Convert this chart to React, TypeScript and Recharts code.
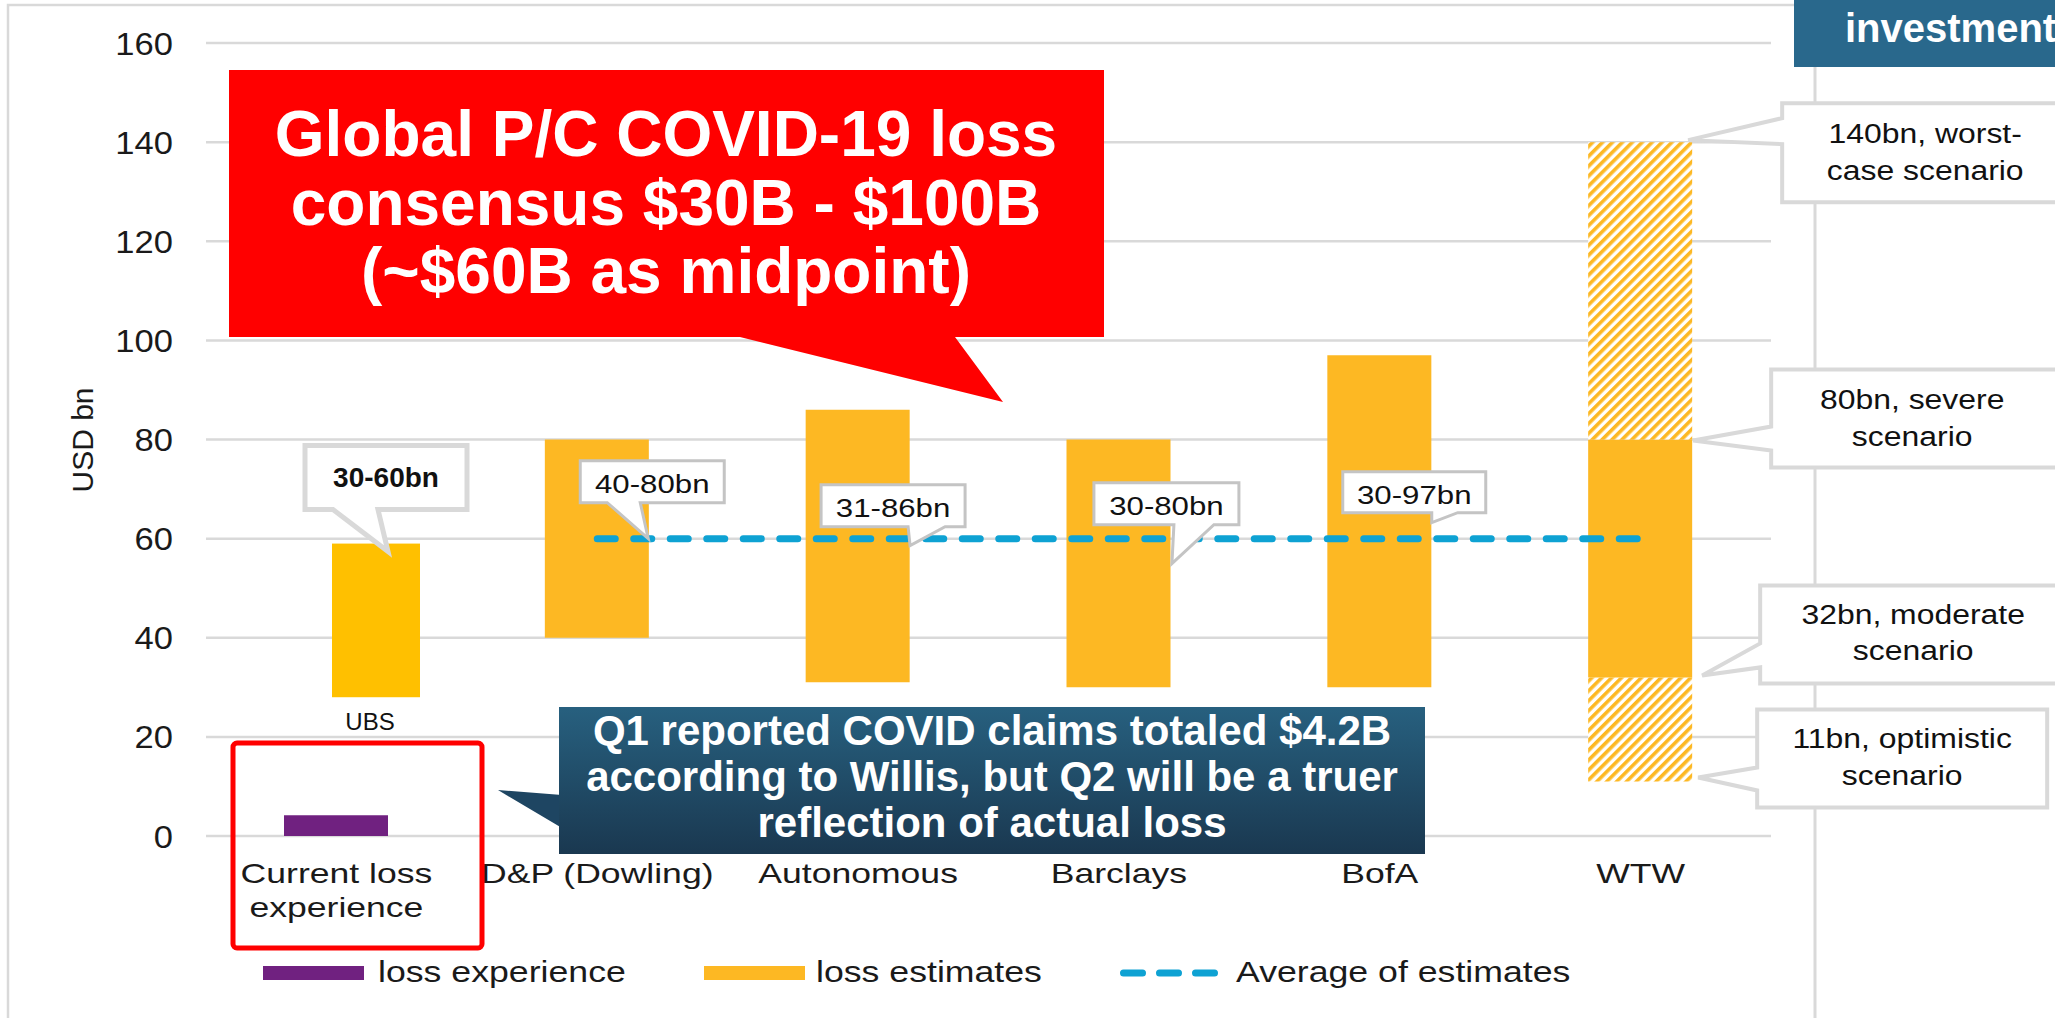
import React from "react";
import {
  ComposedChart,
  Bar,
  Line,
  XAxis,
  YAxis,
  CartesianGrid,
  LabelList,
} from "recharts";

// ---- data ----
const categories = [
  "Current loss experience",
  "D&P (Dowling)",
  "Autonomous",
  "Barclays",
  "BofA",
  "WTW",
];
const lossExperience = [4.2, null, null, null, null, null];
const estimateLow = [null, 40, 31, 30, 30, 32];
const estimateHigh = [null, 80, 86, 80, 97, 80];
const averageOfEstimates = [null, 60, 60, 60, 60, 60];
const ubsRange = [28, 59]; // UBS estimate, drawn inside the first category
const wtwScenarios = [11, 32, 80, 140]; // optimistic, moderate, severe, worst-case
const rangeLabels = ["4.2bn", "40-80bn", "31-86bn", "30-80bn", "30-97bn", ""];
const ubsLabel = "30-60bn";
const ubsName = "UBS";
const scenarioLabels = [
  ["11bn, optimistic", "scenario"],
  ["32bn, moderate", "scenario"],
  ["80bn, severe", "scenario"],
  ["140bn, worst-", "case scenario"],
];
const yTicks = [0, 20, 40, 60, 80, 100, 120, 140, 160];
const legendItems = ["loss experience", "loss estimates", "Average of estimates"];
const headline = ["Global P/C COVID-19 loss", "consensus $30B - $100B", "(~$60B as midpoint)"];
const q1Note = [
  "Q1 reported COVID claims totaled $4.2B",
  "according to Willis, but Q2 will be a truer",
  "reflection of actual loss",
];

const WTW = categories.length - 1;
const data = categories.map((name, i) => {
  const wtw = i === WTW;
  const low = estimateLow[i];
  return {
    name,
    base: wtw ? wtwScenarios[0] : low,
    hatchLow: wtw ? wtwScenarios[1] - wtwScenarios[0] : null,
    experience: lossExperience[i],
    estimate: low == null ? null : (estimateHigh[i] as number) - low,
    hatchHigh: wtw ? wtwScenarios[3] - wtwScenarios[2] : null,
    avg: averageOfEstimates[i],
    ubs: i === 0 ? ubsRange : null,
  };
});

// ---- styling ----
const FONT = '"Liberation Sans", Arial, Helvetica, sans-serif';
const YELLOW = "#FDB823";
const UBS_YELLOW = "#FFC000";
const PURPLE = "#702180";
const BLUE_LINE = "#0EA2D3";
const GRID = "#d9d9d9";
const UBS_SHIFT = 42;

const W = 2055;
const H = 1018;

// callout placement relative to the anchor point (style only)
const rangeCalloutLayout: any[] = [
  null,
  { dx: -17, dy: -78, w: 144, h: 42, tipDx: 51, tipDy: 0, a: 10, b: 43 },
  { dx: -37, dy: -54, w: 144, h: 42, tipDx: 52, tipDy: 7, a: 50, b: 87 },
  { dx: -25, dy: -56, w: 145, h: 42, tipDx: 53, tipDy: 25, a: 55, b: 95 },
  { dx: -37, dy: -67, w: 143, h: 41, tipDx: 52, tipDy: -16, a: 52, b: 78 },
  null,
];
const scenarioLayout = [
  { dx: 65, dy: -72, w: 290, h: 98, tipDx: 6, tipDy: -4, a: -14, b: 9, tx: 210, ly: [-33, 4] },
  { dx: 68, dy: -92, w: 330, h: 98, tipDx: 10, tipDy: -2, a: -34, b: -10, tx: 221, ly: [-53, -17] },
  { dx: 79, dy: -70, w: 330, h: 98, tipDx: 1, tipDy: 1, a: -13, b: 11, tx: 220, ly: [-31, 6] },
  { dx: 90, dy: -39, w: 330, h: 99, tipDx: -4, tipDy: -2, a: -24, b: 2, tx: 233, ly: [1, 38] },
];

const SText = ({ x, y, sx = 1, size, weight = 400, fill = "#111", anchor = "middle", children }: any) => (
  <text
    transform={`translate(${x} ${y}) scale(${sx} 1)`}
    textAnchor={anchor}
    fontSize={size}
    fontWeight={weight}
    fill={fill}
    fontFamily={FONT}
  >
    {children}
  </text>
);

const wedgeBottom = (l: number, t: number, w: number, h: number, tx: number, ty: number, a: number, b: number) =>
  `M${l},${t} H${l + w} V${t + h} H${b} L${tx},${ty} L${a},${t + h} H${l} Z`;
const wedgeLeft = (l: number, t: number, w: number, h: number, tx: number, ty: number, a: number, b: number) =>
  `M${l},${t} H${l + w} V${t + h} H${l} V${b} L${tx},${ty} L${l},${a} Z`;

const wrapLabel = (s: string, max = 13) => {
  const lines: string[] = [];
  let cur = "";
  s.split(" ").forEach((w) => {
    if (cur && (cur + " " + w).length > max) {
      lines.push(cur);
      cur = w;
    } else cur = cur ? cur + " " + w : w;
  });
  lines.push(cur);
  return lines;
};

const YTick = ({ x, y, payload }: any) => (
  <SText x={x} y={y + 11.5} sx={1.08} size={32} anchor="end" fill="#1a1a1a">
    {payload.value}
  </SText>
);

const XTick = ({ x, y, payload }: any) => (
  <g>
    {wrapLabel(payload.value).map((line, k) => (
      <SText key={k} x={x} y={y + 47 + k * 34} sx={1.27} size={28} fill="#1a1a1a">
        {line}
      </SText>
    ))}
  </g>
);

const renderRangeCallout = (p: any) => {
  const i = categories.indexOf(p.value);
  const L = rangeCalloutLayout[i];
  if (!L || p.y == null) return null;
  const l = p.x + L.dx;
  const t = p.y + L.dy;
  return (
    <g>
      <path
        d={wedgeBottom(l, t, L.w, L.h, p.x + L.tipDx, p.y + L.tipDy, p.x + L.a, p.x + L.b)}
        fill="#fff"
        stroke="#c4c4c4"
        strokeWidth={3}
      />
      <SText x={l + L.w / 2} y={t + 32} sx={1.2} size={26}>
        {rangeLabels[i]}
      </SText>
    </g>
  );
};

const renderExperienceCallout = (p: any) => {
  if (categories.indexOf(p.value) !== 0) return null;
  const ax = p.x + p.width;
  const ay = p.y;
  const l = ax - 11;
  const t = ay - 68;
  return (
    <g>
      <path d={wedgeBottom(l, t, 100, 41, ax, ay, ax + 2, ax + 38)} fill="#fff" stroke="#c4c4c4" strokeWidth={2.5} />
      <SText x={ax + 41} y={ay - 36} sx={1.23} size={26}>
        {rangeLabels[0]}
      </SText>
    </g>
  );
};

const UbsShape = (p: any) =>
  p.height > 0 ? <rect x={p.x + UBS_SHIFT} y={p.y} width={p.width} height={p.height} fill={UBS_YELLOW} /> : null;

const renderUbsCallout = (p: any) => {
  if (categories.indexOf(p.value) !== 0 || !p.height) return null;
  const x = p.x + UBS_SHIFT;
  const y = p.y;
  return (
    <g>
      <path d={wedgeBottom(x - 27, y - 98, 162, 64, x + 56, y + 8, x + 1, x + 46)} fill="#fff" stroke="#d9d9d9" strokeWidth={5} />
      <SText x={x + 54} y={y - 57} size={28} weight={700}>
        {ubsLabel}
      </SText>
      <SText x={x + 38} y={y + p.height + 33} size={24}>
        {ubsName}
      </SText>
    </g>
  );
};

const ScenarioCallout = ({ k, right, yv }: any) => {
  const L = scenarioLayout[k];
  const l = right + L.dx;
  const t = yv + L.dy;
  return (
    <g>
      <path
        d={wedgeLeft(l, t, L.w, L.h, right + L.tipDx, yv + L.tipDy, yv + L.a, yv + L.b)}
        fill="#fff"
        stroke="#d9d9d9"
        strokeWidth={4}
      />
      {scenarioLabels[k].map((line, j) => (
        <SText key={j} x={right + L.tx} y={yv + L.ly[j]} sx={1.14} size={28}>
          {line}
        </SText>
      ))}
    </g>
  );
};

const renderUpperScenarios = (p: any) => {
  if (categories.indexOf(p.value) !== WTW || !p.height) return null;
  const right = p.x + p.width;
  return (
    <g>
      <ScenarioCallout k={3} right={right} yv={p.y} />
      <ScenarioCallout k={2} right={right} yv={p.y + p.height} />
    </g>
  );
};

const renderLowerScenarios = (p: any) => {
  if (categories.indexOf(p.value) !== WTW || !p.height) return null;
  const right = p.x + p.width;
  return (
    <g>
      <ScenarioCallout k={1} right={right} yv={p.y} />
      <ScenarioCallout k={0} right={right} yv={p.y + p.height} />
    </g>
  );
};

const Overlay = () => {
  const legendSwatches = [
    { x: 263, color: PURPLE, textX: 378 },
    { x: 704, color: YELLOW, textX: 816 },
    { x: 1120, color: BLUE_LINE, textX: 1236, dashed: true },
  ];
  return (
    <svg width={W} height={H} style={{ position: "absolute", left: 0, top: 0, pointerEvents: "none" }}>
      <defs>
        <linearGradient id="q1Fill" x1="0" y1="0" x2="0" y2="1">
          <stop offset="0%" stopColor="#27607f" />
          <stop offset="100%" stopColor="#1a3850" />
        </linearGradient>
      </defs>
      {/* axis title */}
      <text transform="translate(93 440) rotate(-90)" textAnchor="middle" fontSize={30} fontFamily={FONT} fill="#1a1a1a">
        USD bn
      </text>

      {/* headline callout */}
      <path d="M229,70 H1104 V337 H955 L1003,402 L740,337 H229 Z" fill="#FF0000" />
      {headline.map((line, k) => (
        <SText key={k} x={666} y={156 + k * 68.5} size={64} weight={700} fill="#fff">
          {line}
        </SText>
      ))}

      {/* Q1 callout */}
      <path d="M498,790 L562,795 L562,828 Z" fill="#1e4562" />
      <rect x={559} y={707} width={866} height={147} fill="url(#q1Fill)" />
      {q1Note.map((line, k) => (
        <SText key={k} x={992} y={745 + k * 46} size={42} weight={700} fill="#fff">
          {line}
        </SText>
      ))}

      {/* red frame around the current loss category */}
      <rect x={233} y={743} width={249} height={205} rx={4} fill="none" stroke="#FF0000" strokeWidth={5} />

      {/* top right banner */}
      <rect x={1794} y={0} width={261} height={67} fill="#29688c" />
      <SText x={1845} y={42} size={40} weight={700} fill="#fff" anchor="start">
        investment
      </SText>

      {/* legend */}
      {legendItems.map((label, k) => {
        const s = legendSwatches[k];
        return (
          <g key={label}>
            {s.dashed ? (
              <line
                x1={s.x + 3.5}
                x2={s.x + 94.5}
                y1={973}
                y2={973}
                stroke={s.color}
                strokeWidth={7}
                strokeDasharray="19 17"
                strokeLinecap="round"
              />
            ) : (
              <rect x={s.x} y={966} width={101} height={14} fill={s.color} />
            )}
            <SText x={s.textX} y={982} sx={1.23} size={29} anchor="start" fill="#1a1a1a">
              {label}
            </SText>
          </g>
        );
      })}
    </svg>
  );
};

export default function App() {
  return (
    <div
      style={{
        position: "absolute",
        left: 0,
        top: 0,
        width: W,
        height: H,
        background: "#fff",
        overflow: "hidden",
        fontFamily: FONT,
      }}
    >
      <svg width={W} height={H} style={{ position: "absolute", left: 0, top: 0 }}>
        <path d="M8,1018 V5 H1794" fill="none" stroke={GRID} strokeWidth={2.5} />
        <line x1={1815} x2={1815} y1={67} y2={1018} stroke={GRID} strokeWidth={3} />
      </svg>
      <div style={{ position: "absolute", left: 0, top: 0 }}>
        <ComposedChart
          width={W}
          height={H}
          data={data}
          margin={{ top: 43, right: 284, bottom: 82, left: 0 }}
        >
          <defs>
            <pattern id="wtwHatch" patternUnits="userSpaceOnUse" width={7} height={7} patternTransform="rotate(45)">
              <rect width={7} height={7} fill="#fff" />
              <rect width={3.6} height={7} fill={YELLOW} />
            </pattern>
          </defs>
          <CartesianGrid vertical={false} stroke={GRID} strokeWidth={2.5} />
          <XAxis
            dataKey="name"
            interval={0}
            axisLine={false}
            tickLine={false}
            tickSize={0}
            tickMargin={0}
            height={100}
            tick={<XTick />}
          />
          <XAxis xAxisId="ubs" dataKey="name" hide />
          <YAxis
            domain={[0, 160]}
            ticks={yTicks}
            width={206}
            axisLine={false}
            tickLine={false}
            tickSize={0}
            tickMargin={33}
            tick={<YTick />}
          />
          <Bar dataKey="base" stackId="a" barSize={104} fill="transparent" isAnimationActive={false} />
          <Bar dataKey="hatchLow" stackId="a" barSize={104} fill="url(#wtwHatch)" isAnimationActive={false}>
            <LabelList dataKey="name" content={renderLowerScenarios} />
          </Bar>
          <Bar dataKey="experience" stackId="a" barSize={104} fill={PURPLE} isAnimationActive={false} />
          <Bar dataKey="estimate" stackId="a" barSize={104} fill={YELLOW} isAnimationActive={false} />
          <Bar dataKey="hatchHigh" stackId="a" barSize={104} fill="url(#wtwHatch)" isAnimationActive={false}>
            <LabelList dataKey="name" content={renderUpperScenarios} />
          </Bar>
          <Bar
            xAxisId="ubs"
            dataKey="ubs"
            barSize={88}
            fill={UBS_YELLOW}
            shape={<UbsShape />}
            isAnimationActive={false}
          >
            <LabelList dataKey="name" content={renderUbsCallout} />
          </Bar>
          <Line
            dataKey="avg"
            stroke={BLUE_LINE}
            strokeWidth={7}
            strokeDasharray="18 18.5"
            strokeLinecap="round"
            dot={false}
            activeDot={false}
            connectNulls={false}
            isAnimationActive={false}
          >
            <LabelList dataKey="name" content={renderRangeCallout} />
          </Line>
          <Bar dataKey="experience" xAxisId="ubs" barSize={0} fill="none" isAnimationActive={false} legendType="none">
            <LabelList dataKey="name" content={renderExperienceCallout} />
          </Bar>
        </ComposedChart>
      </div>
      <Overlay />
    </div>
  );
}
